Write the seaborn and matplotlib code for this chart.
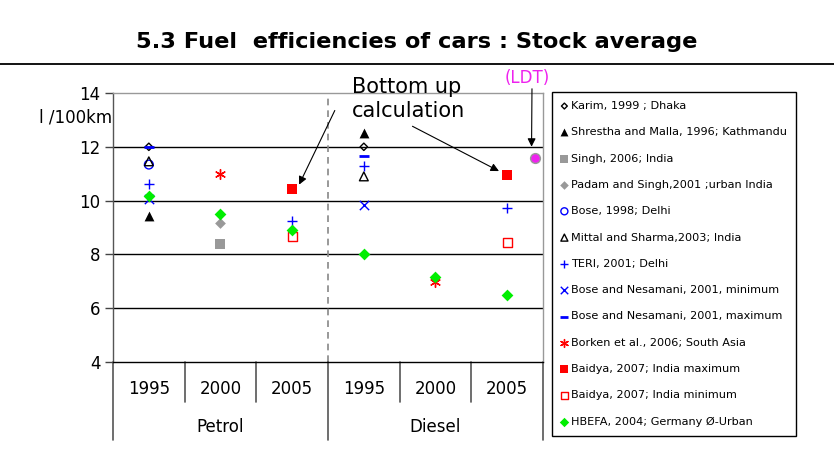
import numpy as np
import pandas as pd
import matplotlib
matplotlib.use('Agg')
import matplotlib.pyplot as plt
import seaborn as sns

# categories : 3 years x 2 fuels
years = ['1995', '2000', '2005']
fuels = ['Petrol', 'Diesel']
nan = np.nan

# l/100km, one value per slot (Petrol 95/00/05, Diesel 95/00/05)
karim = [12.0, nan, nan, 12.0, nan, nan]
shrestha = [9.44, nan, nan, 12.52, nan, nan]
singh = [nan, 8.39, nan, nan, nan, nan]
padam = [nan, 9.17, nan, nan, nan, nan]
bose = [11.34, nan, nan, nan, nan, nan]
mittal = [11.46, nan, nan, 10.9, nan, nan]
teri = [10.6, nan, 9.23, 11.28, nan, 9.73]
bose_min = [10.07, nan, nan, 9.85, nan, nan]
bose_max = [12.0, nan, nan, 11.65, nan, nan]
borken = [nan, 11.0, nan, nan, 6.96, nan]
baidya_max = [nan, nan, 10.43, nan, nan, 10.97]
baidya_min = [nan, nan, 8.67, nan, nan, 8.45]
hbefa = [10.16, 9.52, 8.92, 8.0, 7.16, 6.48]
ldt_x = 5.39
ldt_y = 11.59

series = [
    ('Karim, 1999 ; Dhaka', karim, 'D', 'black', False, 14),
    ('Shrestha and Malla, 1996; Kathmandu', shrestha, '^', 'black', True, 50),
    ('Singh, 2006; India', singh, 's', '#999999', True, 42),
    ('Padam and Singh,2001 ;urban India', padam, 'D', '#999999', True, 30),
    ('Bose, 1998; Delhi', bose, 'o', 'blue', False, 40),
    ('Mittal and Sharma,2003; India', mittal, '^', 'black', False, 40),
    ('TERI, 2001; Delhi', teri, '+', 'blue', True, 60),
    ('Bose and Nesamani, 2001, minimum', bose_min, 'x', 'blue', True, 45),
    ('Bose and Nesamani, 2001, maximum', bose_max, '_', 'blue', True, 60),
    ('Borken et al., 2006; South Asia', borken, (6, 2, 0), 'red', True, 50),
    ('Baidya, 2007; India maximum', baidya_max, 's', 'red', True, 50),
    ('Baidya, 2007; India minimum', baidya_min, 's', 'red', False, 45),
    ('HBEFA, 2004; Germany Ø-Urban', hbefa, 'D', '#00ee00', True, 36),
]

sns.set_style('white')
plt.rcParams['font.family'] = ['DejaVu Sans']
plt.rcParams['text.color'] = 'black'
plt.rcParams['ytick.labelcolor'] = 'black'

W, H = 834, 454
fig = plt.figure(figsize=(W / 100, H / 100), dpi=100)
ax = fig.add_axes([113 / W, 1 - 362 / H, 430 / W, 269 / H])

slots = np.arange(6)
for label, vals, mk, col, filled, size in series:
    df = pd.DataFrame({'x': slots, 'y': vals}).dropna()
    if filled:
        if mk == '_':
            lw = 2.0
        elif mk in ('+', 'x', (6, 2, 0)):
            lw = 1.0
        else:
            lw = 0
        sns.scatterplot(data=df, x='x', y='y', marker=mk, color=col, s=size,
                        linewidth=lw, label=label, ax=ax, zorder=3)
    else:
        sns.scatterplot(data=df, x='x', y='y', marker=mk, s=size,
                        facecolor='none', edgecolor=col, linewidth=1.0,
                        label=label, ax=ax, zorder=3)

# LDT point, not in legend
sns.scatterplot(x=[ldt_x], y=[ldt_y], marker='o', color='#ee22ee', s=50,
                edgecolor='#999999', linewidth=1, ax=ax, zorder=3, legend=False)

ax.set_xlim(-0.5, 5.5)
ax.set_ylim(4, 14)
ax.set_yticks([4, 6, 8, 10, 12, 14])
ax.set_yticklabels(['4', '6', '8', '10', '12', '14'], fontsize=12)
ax.set_xticks([])
ax.set_xlabel('')
ax.set_ylabel('')
ax.tick_params(axis='y', length=6, width=1, color='#444444', labelcolor='black',
               left=True, pad=3)
for yv in [6, 8, 10, 12]:
    ax.axhline(yv, color='black', lw=1, zorder=1)
ax.spines['top'].set_color('#999999')
ax.spines['right'].set_color('#999999')
ax.spines['left'].set_color('#555555')
ax.spines['bottom'].set_color('black')
for sp in ax.spines.values():
    sp.set_linewidth(1)

# dashed separator petrol / diesel
ax.axvline(2.5, color='#888888', lw=1.2, ls=(0, (4, 3)), zorder=1)

# category axis drawn below the plot
tr = ax.get_xaxis_transform()
for xb in [-0.5, 2.5, 5.5]:
    ax.plot([xb, xb], [0, -0.29], color='#555555', lw=1.2, transform=tr, clip_on=False)
for xb in [0.5, 1.5, 3.5, 4.5]:
    ax.plot([xb, xb], [0, -0.15], color='#555555', lw=1.2, transform=tr, clip_on=False)
for i in range(6):
    ax.text(i, -0.1, years[i % 3], ha='center', va='center', fontsize=12, transform=tr)
for j, f in enumerate(fuels):
    ax.text(1 + 3 * j, -0.242, f, ha='center', va='center', fontsize=12, transform=tr)

fig.text(112 / W, 1 - 117 / H, 'l /100km', ha='right', va='center', fontsize=12)

# title and rule
fig.text(0.5, 1 - 42 / H, '5.3 Fuel  efficiencies of cars : Stock average',
         ha='center', va='center', fontsize=16.2, fontweight='bold')
fig.add_artist(plt.Line2D([0, 1], [1 - 64 / H, 1 - 64 / H], color='black', lw=1.3))

# annotations
fig.text(352 / W, 1 - 99 / H, 'Bottom up\ncalculation', ha='left', va='center',
         fontsize=15, linespacing=1.3)
ax.annotate('', xy=(2.08, 10.5), xycoords='data',
            xytext=(336 / W, 1 - 108 / H), textcoords='figure fraction',
            arrowprops=dict(arrowstyle='-|>', color='black', lw=0.8, mutation_scale=12))
ax.annotate('', xy=(4.92, 11.05), xycoords='data',
            xytext=(410 / W, 1 - 125 / H), textcoords='figure fraction',
            arrowprops=dict(arrowstyle='-|>', color='black', lw=0.8, mutation_scale=12))
fig.text(527 / W, 1 - 78 / H, '(LDT)', ha='center', va='center', fontsize=12,
         color='#ee22ee')
ax.annotate('', xy=(ldt_x - 0.05, 11.9), xycoords='data',
            xytext=(532 / W, 1 - 86 / H), textcoords='figure fraction',
            arrowprops=dict(arrowstyle='-|>', color='black', lw=0.8, mutation_scale=12))

# legend box on the right
handles, labels = ax.get_legend_handles_labels()
ax.get_legend().remove()
leg = fig.legend(handles, labels, loc='upper left',
                 bbox_to_anchor=(552 / W, 1 - 92 / H), borderaxespad=0,
                 fontsize=8.1, frameon=True, fancybox=False, framealpha=1,
                 edgecolor='black', labelspacing=1.45, handlelength=0.6,
                 handletextpad=0.3, borderpad=0.8, markerscale=0.8)
leg.get_frame().set_linewidth(1)

fig.savefig('out.png', dpi=100)
